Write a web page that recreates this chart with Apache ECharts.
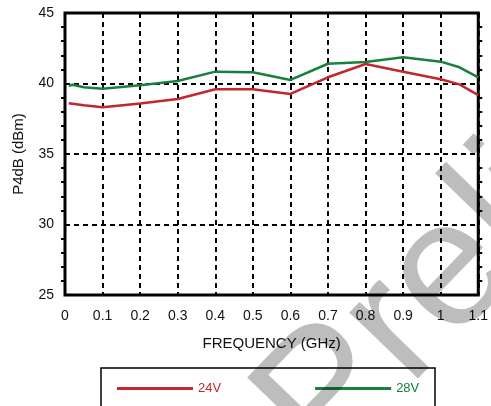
<!DOCTYPE html>
<html>
<head>
<meta charset="utf-8">
<script src="https://cdn.jsdelivr.net/npm/echarts@6/dist/echarts.min.js"></script>
<style>
html,body{margin:0;padding:0;background:#fff;}
#chart{width:491px;height:406px;}
</style>
</head>
<body>
<div id="chart"></div>
<script>
// Data
const freq24 = [0.01, 0.05, 0.1, 0.2, 0.3, 0.4, 0.5, 0.6, 0.7, 0.8, 0.9, 1.0, 1.05, 1.1];
const p24    = [38.6, 38.45, 38.31, 38.58, 38.9, 39.59, 39.59, 39.26, 40.44, 41.38, 40.84, 40.3, 39.94, 39.18];
const freq28 = [0.01, 0.02, 0.05, 0.1, 0.2, 0.3, 0.4, 0.5, 0.6, 0.7, 0.8, 0.9, 1.0, 1.05, 1.1];
const p28    = [39.84, 39.91, 39.74, 39.63, 39.87, 40.18, 40.84, 40.8, 40.25, 41.4, 41.52, 41.86, 41.55, 41.15, 40.44];
const seriesNames = ['24V', '28V'];
const seriesColors = ['#c1272d', '#17803d'];
const xTitle = 'FREQUENCY (GHz)';
const yTitle = 'P4dB (dBm)';
const watermark = 'Preliminary';

const FONT = '"Liberation Sans", Arial, Helvetica, sans-serif';
const chart = echarts.init(document.getElementById('chart'), null, {renderer: 'canvas'});

const dash = {color: '#000', width: 2, type: [5, 4]};

chart.setOption({
  animation: false,
  backgroundColor: '#fff',
  textStyle: {fontFamily: FONT},
  grid: {
    left: 65, right: 8, top: 13, bottom: 111,
    show: true, borderColor: '#000', borderWidth: 3, backgroundColor: 'transparent', z: 3
  },
  xAxis: {
    type: 'value', min: 0, max: 1.1, interval: 0.1,
    name: xTitle, nameLocation: 'middle', nameGap: 41,
    nameTextStyle: {fontSize: 15, color: '#111', fontFamily: FONT},
    axisLine: {show: false},
    axisTick: {show: false},
    axisLabel: {fontSize: 14, color: '#111', margin: 14, fontFamily: FONT,
      formatter: v => String(Math.round(v * 10) / 10)},
    splitLine: {show: true, lineStyle: dash}
  },
  yAxis: [{
    type: 'value', min: 25, max: 45, interval: 5, position: 'left',
    name: yTitle, nameLocation: 'middle', nameGap: 39,
    nameTextStyle: {fontSize: 15, color: '#111', fontFamily: FONT},
    axisLine: {show: false},
    axisTick: {show: false},
    minorTick: {show: true, splitNumber: 5, length: 4, lineStyle: {color: '#000', width: 2}},
    axisLabel: {fontSize: 14, color: '#111', margin: 11, fontFamily: FONT},
    splitLine: {show: true, lineStyle: dash}
  }, {
    type: 'value', min: 25, max: 45, interval: 5, position: 'right',
    axisLine: {show: false},
    axisTick: {show: false},
    minorTick: {show: true, splitNumber: 5, length: 4, lineStyle: {color: '#000', width: 2}},
    axisLabel: {show: false},
    splitLine: {show: false}
  }],
  legend: {
    left: 117, top: 382, padding: 0,
    icon: 'rect', itemWidth: 76, itemHeight: 3, itemGap: 94,
    textStyle: {fontSize: 13, fontFamily: FONT},
    data: seriesNames.map((n, i) => ({name: n, textStyle: {color: seriesColors[i]}}))
  },
  graphic: [
    {
      type: 'rect', z: 10,
      shape: {x: 101, y: 368, width: 334, height: 60},
      style: {fill: 'none', stroke: '#000', lineWidth: 1.5}
    },
    {
      type: 'text', z: 100, x: 355, y: 502, rotation: 46 * Math.PI / 180,
      style: {text: watermark, font: '180px "Liberation Sans", Arial, sans-serif', fill: 'rgba(0,0,0,0.26)',
        align: 'left', verticalAlign: 'bottom'}
    }
  ],
  series: [
    {
      name: seriesNames[0], type: 'line', symbol: 'none', z: 5,
      lineStyle: {color: seriesColors[0], width: 2.5}, itemStyle: {color: seriesColors[0]},
      data: freq24.map((f, i) => [f, p24[i]])
    },
    {
      name: seriesNames[1], type: 'line', symbol: 'none', z: 5,
      lineStyle: {color: seriesColors[1], width: 2.5}, itemStyle: {color: seriesColors[1]},
      data: freq28.map((f, i) => [f, p28[i]])
    }
  ]
});
</script>
</body>
</html>
